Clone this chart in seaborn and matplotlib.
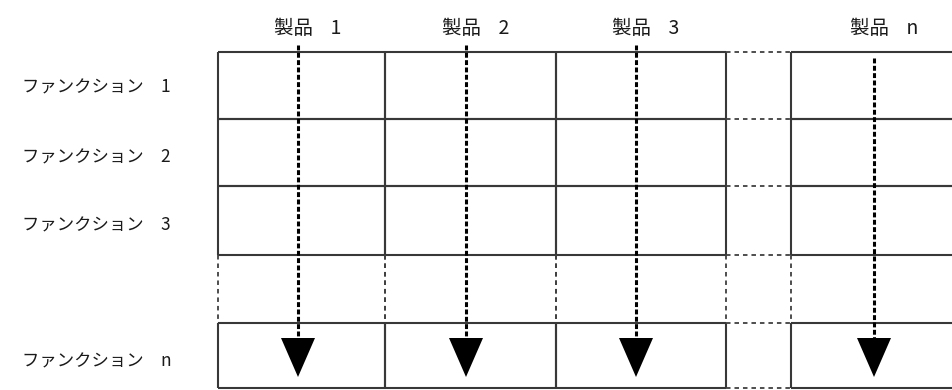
import matplotlib
matplotlib.use("Agg")
import matplotlib.pyplot as plt
import seaborn as sns

# ---- content ----
products = ["製品 1", "製品 2", "製品 3", "製品 n"]
functions = ["ファンクション 1", "ファンクション 2", "ファンクション 3", "ファンクション n"]

sns.set_theme(style="white")
plt.rcParams["font.family"] = ["Noto Sans CJK JP", "DejaVu Sans"]

W, H = 952, 390
fig = plt.figure(figsize=(W / 100, H / 100), dpi=100)
ax = fig.add_axes([0, 0, 1, 1])
ax.set_xlim(0, W)
ax.set_ylim(H, 0)
ax.axis("off")

# layout (pixels)
col_spans = [(218, 385), (385, 556), (556, 726), (791, 952)]  # real product columns
gap_col = (726, 791)
row_spans = [(52, 119), (119, 186), (186, 255), (323, 388)]   # real function rows
gap_row = (255, 323)

solid = dict(color="#383838", lw=1.5, solid_capstyle="butt")
dot = dict(color="#404040", lw=1.3, dashes=(2.5, 2.2))

# solid cells
for (x0, x1) in col_spans:
    for (y0, y1) in row_spans:
        ax.plot([x0, x1], [y0, y0], **solid)
        ax.plot([x0, x1], [y1, y1], **solid)
        ax.plot([x0, x0], [y0, y1], **solid)
        if x1 < W:
            ax.plot([x1, x1], [y0, y1], **solid)

# dotted gap row verticals
for (x0, x1) in col_spans:
    ax.plot([x0, x0], [gap_row[0], gap_row[1]], **dot)
    if x1 < W:
        ax.plot([x1, x1], [gap_row[0], gap_row[1]], **dot)

# dotted gap column horizontals
for y in [52, 119, 186, 255, 323, 388]:
    ax.plot([gap_col[0], gap_col[1]], [y, y], **dot)

# arrows
arrow_x = [298, 466, 636, 874]
arrow_top = [45, 45, 45, 58]
head_top, head_tip, head_half = 338, 377, 17
for i, p in enumerate(products):
    x = arrow_x[i]
    ax.plot([x, x], [arrow_top[i], head_top + 2], color="black", lw=2.2,
            dashes=(1.6, 0.8), solid_capstyle="butt", dash_capstyle="butt")
    ax.fill([x - head_half, x + head_half, x], [head_top, head_top, head_tip],
            color="black", lw=0)
    ax.text(x - 24, 28, p.replace(" ", "    "), ha="left", va="center",
            fontsize=14, color="#1a1a1a")

# function labels
label_y = [88, 157, 225, 362]
for f, y in zip(functions, label_y):
    ax.text(22, y, f.replace(" ", "\u3000"), ha="left", va="center",
            fontsize=12.5, color="#1a1a1a")

fig.savefig("out.png", dpi=100, facecolor="white")
